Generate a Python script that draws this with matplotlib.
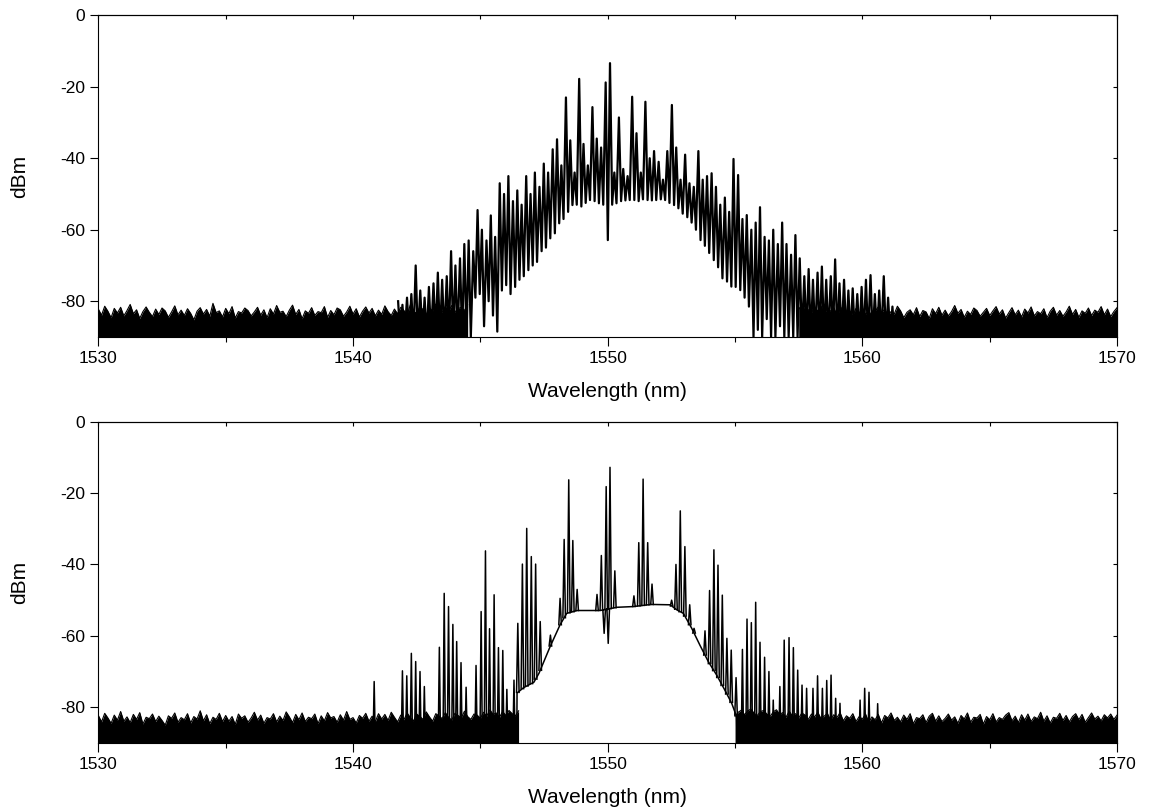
import numpy as np
import matplotlib.pyplot as plt
from matplotlib.ticker import MultipleLocator

plt.rcParams["font.family"] = ["Liberation Sans", "DejaVu Sans"]
plt.rcParams["axes.unicode_minus"] = False

x_ticks = [1530, 1540, 1550, 1560, 1570]
y_ticks = [-80, -60, -40, -20, 0]
floor_step = 0.125  # nm between noise-floor samples

# ---- upper spectrum: dense comb, one valley level after each line ----
top_line_wl = [
    1541.77, 1541.94, 1542.12, 1542.29, 1542.46, 1542.64, 1542.81, 1542.98, 1543.16, 1543.33,
    1543.50, 1543.68, 1543.85, 1544.02, 1544.20, 1544.37, 1544.54, 1544.72, 1544.89, 1545.06,
    1545.24, 1545.41, 1545.58, 1545.76, 1545.93, 1546.10, 1546.28, 1546.45, 1546.62, 1546.80,
    1546.97, 1547.14, 1547.32, 1547.49, 1547.66, 1547.84, 1548.01, 1548.18, 1548.36, 1548.53,
    1548.70, 1548.88, 1549.05, 1549.22, 1549.40, 1549.57, 1549.74, 1549.92, 1550.09, 1550.26,
    1550.44, 1550.61, 1550.78, 1550.96, 1551.13, 1551.30, 1551.48, 1551.65, 1551.82, 1552.00,
    1552.17, 1552.34, 1552.52, 1552.69, 1552.86, 1553.04, 1553.21, 1553.38, 1553.56, 1553.73,
    1553.90, 1554.08, 1554.25, 1554.42, 1554.60, 1554.77, 1554.94, 1555.12, 1555.29, 1555.46,
    1555.64, 1555.81, 1555.98, 1556.16, 1556.33, 1556.50, 1556.68, 1556.85, 1557.02, 1557.20,
    1557.37, 1557.54, 1557.72, 1557.89, 1558.06, 1558.24, 1558.41, 1558.58, 1558.76, 1558.93,
    1559.10, 1559.28, 1559.45, 1559.62, 1559.80, 1559.97, 1560.14, 1560.32, 1560.49, 1560.66,
    1560.84, 1561.01, 1561.18,
]
top_line_dbm = [
    -80, -81, -79, -78, -70, -77, -79, -76, -75, -72,
    -74, -73, -66, -70, -68, -64, -63, -66, -54.5, -60,
    -63, -56, -62, -47, -50, -45, -52, -49, -53, -45,
    -50, -44, -48, -41.5, -44, -37.5, -34.7, -42, -23, -35,
    -44, -17.8, -36, -42, -25.7, -34.5, -37, -18.8, -13.4, -44,
    -28.6, -43, -45, -22.8, -33, -44, -24.2, -40, -38, -41,
    -46, -38, -25.1, -37, -46, -39, -47, -48, -38, -46,
    -45, -44.2, -48, -53, -51, -55, -40.2, -44.7, -57, -55.9,
    -60, -58, -53.7, -62, -63, -60, -64, -58, -64, -67,
    -61.5, -68, -73, -71, -74, -72, -70.3, -74, -73, -68.3,
    -75, -74, -77, -76.4, -78, -76, -74, -72.7, -78, -77,
    -73, -79, -81.5,
]
top_valley_dbm = [
    -90, -90, -90, -90, -90, -90, -90, -90, -90, -90,
    -90, -90, -90, -90, -90, -90, -90, -79, -78, -87,
    -80, -84, -88.5, -77, -75.5, -78, -76, -74, -73, -71.3,
    -70, -69, -66, -65, -62.4, -61, -58.2, -57, -55, -53.1,
    -53, -53.5, -52.5, -51.7, -52, -52.6, -53, -62.9, -53, -52.6,
    -52, -51.8, -51.7, -51.7, -52, -51.5, -51.7, -51.8, -51.7, -51.5,
    -51.7, -52.5, -53.1, -54, -55.5, -56.5, -58, -60, -62.9, -64.5,
    -66.5, -68.5, -70.5, -73.6, -74.5, -75.9, -76, -76.9, -79, -81.5,
    -90, -88, -90, -85, -90, -90, -87, -90, -90, -90,
    -90, -90, -90, -90, -90, -90, -90, -90, -90, -90,
    -90, -90, -90, -90, -90, -90, -90, -90, -90, -90,
    -90, -90, -90,
]
top_floor_left_start = 1530.0
top_floor_left = [
    -82.2, -83.9, -81.4, -82.8, -84.6, -82.0, -83.3, -81.7, -84.1, -82.6,
    -80.9, -83.5, -82.4, -84.8, -82.9, -81.6, -83.1, -84.3, -82.2, -83.7,
    -81.9, -82.7, -84.5, -83.0, -81.3, -83.8, -82.5, -84.0, -82.1, -83.4,
    -85.2, -82.8, -81.8, -83.6, -82.3, -84.2, -80.6, -83.2, -82.7, -84.4,
    -82.0, -83.5, -81.5, -84.7, -82.9, -83.3, -81.9, -82.6, -84.1, -83.0,
    -81.7, -83.9, -82.4, -84.6, -82.1, -83.6, -81.2, -83.1, -82.8, -84.3,
    -82.5, -81.1, -83.7, -82.3, -84.9, -82.7, -83.4, -81.8, -84.0, -82.9,
    -83.2, -81.5, -84.5, -82.6, -83.8, -81.9, -82.4, -84.2, -83.0, -81.4,
    -83.6, -82.1, -84.4, -82.8, -81.6, -83.3, -82.0, -84.1, -82.5, -83.7,
    -81.3, -82.9, -84.0, -82.2, -83.5, -81.7, -82.6, -83.9, -81.0, -82.8,
    -83.4, -81.6, -82.3, -83.8, -81.9, -82.7, -80.8, -82.4, -83.1, -81.5,
    -82.9, -81.2, -83.0, -82.1, -81.7, -82.6, -80.9,
]
top_floor_right_start = 1557.5
top_floor_right = [
    -81.6, -82.9, -81.1, -82.4, -83.2, -81.8, -82.7, -81.3, -83.5, -82.1,
    -82.8, -81.7, -83.9, -82.3, -81.5, -83.0, -82.6, -84.2, -82.0, -83.4,
    -81.9, -83.7, -82.5, -84.4, -82.8, -81.6, -83.3, -82.2, -84.0, -82.9,
    -83.6, -81.4, -82.7, -84.6, -83.1, -82.4, -83.8, -81.8, -84.3, -82.6,
    -83.0, -84.8, -82.1, -83.5, -81.7, -83.9, -82.5, -84.1, -82.9, -81.2,
    -83.4, -82.3, -84.5, -82.8, -83.7, -81.9, -82.6, -84.2, -83.1, -82.0,
    -84.0, -82.7, -81.5, -83.6, -82.4, -84.7, -83.2, -81.8, -83.8, -82.5,
    -84.4, -82.2, -83.3, -81.6, -84.1, -82.9, -83.5, -82.1, -84.6, -82.8,
    -81.7, -83.9, -82.6, -84.2, -83.0, -81.4, -83.7, -82.3, -84.5, -82.7,
    -83.4, -81.9, -84.0, -82.5, -83.1, -81.5, -83.8, -82.2, -84.3, -82.9,
    -81.8,
]

# ---- lower spectrum: flat-top pedestal with line clusters ----
bot_pedestal_wl = [
    1546.43, 1546.44, 1546.70, 1547.10, 1547.30, 1547.74, 1548.13, 1548.39, 1548.80,
    1549.70, 1550.36, 1551.00, 1551.70, 1552.45, 1552.71, 1552.97, 1553.30, 1553.62,
    1553.95, 1554.28, 1554.60, 1554.87, 1555.06, 1555.08,
]
bot_pedestal_dbm = [
    -90, -76, -74.5, -73, -70.5, -63, -56.9, -53.7, -52.9,
    -52.9, -52, -51.8, -51.2, -51.3, -52.7, -53.7, -57.9, -62.6,
    -67.2, -71, -75.2, -78.9, -82.6, -90,
]
bot_line_wl = [
    1540.83, 1541.94, 1542.11, 1542.29, 1542.46, 1542.63, 1542.80,
    1543.39, 1543.58, 1543.75, 1543.92, 1544.07, 1544.24, 1544.44,
    1544.83, 1545.03, 1545.20, 1545.36, 1545.54, 1545.71, 1545.88, 1546.04, 1546.32,
    1546.47, 1546.65, 1546.82, 1547.00, 1547.17, 1547.35, 1547.75,
    1548.13, 1548.29, 1548.47, 1548.63, 1548.80,
    1549.58, 1549.75, 1549.86, 1549.94, 1550.02, 1550.09, 1550.28,
    1551.03, 1551.22, 1551.39, 1551.57, 1551.74,
    1552.51, 1552.68, 1552.85, 1553.03, 1553.22, 1553.39,
    1553.82, 1554.00, 1554.17, 1554.33, 1554.50, 1554.68, 1554.85, 1555.04,
    1555.29, 1555.47, 1555.64, 1555.81, 1555.98, 1556.16, 1556.33, 1556.50,
    1556.76, 1556.93, 1557.12, 1557.29, 1557.46, 1557.63, 1557.81,
    1558.06, 1558.24, 1558.43, 1558.60, 1558.77, 1558.95, 1559.12,
    1559.91, 1560.09, 1560.26, 1560.60,
]
bot_line_dbm = [
    -72.8, -69.8, -71.2, -64.9, -67.2, -70.0, -74.2,
    -63.2, -48.1, -51.8, -56.8, -61.6, -67.5, -74.4,
    -68.3, -53.2, -36.2, -58.0, -48.5, -63.3, -64.1, -75.0, -72.4,
    -56.5, -39.9, -29.9, -37.8, -39.9, -56.0, -59.8,
    -49.5, -33.0, -16.3, -33.3, -47.0,
    -48.4, -37.5, -59.3, -18.2, -62.1, -12.8, -41.8,
    -48.8, -33.9, -16.1, -33.9, -45.5,
    -50.0, -40.0, -25.0, -35.0, -51.3, -57.9,
    -58.6, -47.3, -35.9, -40.2, -48.6, -60.7, -64.0, -71.7,
    -63.8, -55.3, -56.3, -50.6, -61.8, -66.0, -70.0, -78.0,
    -74.2, -61.2, -60.5, -63.3, -69.6, -73.8, -74.7,
    -74.7, -71.2, -74.7, -72.5, -71.0, -77.5, -78.9,
    -78.0, -74.7, -75.8, -79.0,
]
bot_floor_left_start = 1530.0
bot_floor_left = [
    -82.3, -84.1, -81.7, -83.0, -84.5, -82.2, -83.6, -81.2, -83.9, -82.7,
    -84.3, -82.0, -83.4, -81.5, -84.7, -82.8, -83.2, -81.9, -84.0, -82.5,
    -83.7, -85.0, -82.4, -83.1, -81.6, -84.2, -82.9, -83.5, -81.8, -84.4,
    -82.6, -83.3, -81.0, -83.8, -82.1, -84.6, -82.8, -83.4, -81.7, -84.0,
    -82.3, -83.9, -82.6, -84.8, -81.9, -83.1, -82.4, -84.2, -83.0, -81.4,
    -83.6, -82.2, -84.5, -82.9, -83.3, -81.8, -84.1, -82.5, -83.7, -81.3,
    -82.7, -84.3, -82.0, -83.5, -81.6, -84.0, -82.8, -83.2, -81.9, -84.6,
    -82.4, -83.8, -81.5, -83.0, -82.6, -84.2, -82.1, -83.6, -81.2, -83.4,
    -82.9, -84.4, -82.3, -83.1, -81.7, -83.9, -82.5, -84.0, -81.8, -83.3,
    -82.0, -83.7, -81.4, -82.8, -84.1, -82.2, -83.5, -81.6, -82.9, -83.8,
    -81.9, -82.6, -83.4, -81.3, -82.7, -83.9, -81.8, -82.4, -83.2, -81.5,
    -82.8, -83.6, -81.7, -82.3, -83.0, -81.1, -82.6, -83.4, -81.9, -82.2,
    -83.1, -81.4, -82.5, -80.7, -82.0, -81.6, -82.8, -81.2, -82.3, -80.9,
    -81.8, -82.4, -81.0,
]
bot_floor_right_start = 1555.0
bot_floor_right = [
    -82.6, -81.4, -80.8, -82.1, -81.0, -80.5, -81.7, -82.3, -81.2, -80.9,
    -81.9, -82.6, -81.3, -80.7, -82.0, -81.5, -82.8, -81.1, -82.4, -81.8,
    -83.0, -81.6, -82.2, -83.4, -81.9, -82.7, -81.4, -83.2, -82.5, -81.7,
    -83.6, -82.1, -82.9, -81.5, -83.8, -82.4, -83.1, -81.8, -84.0, -82.6,
    -83.3, -81.9, -84.2, -82.7, -83.5, -82.0, -84.4, -82.3, -83.0, -81.6,
    -83.7, -82.8, -84.1, -82.2, -83.4, -81.8, -84.6, -82.9, -83.2, -82.1,
    -84.3, -82.5, -81.7, -83.9, -82.4, -84.0, -83.1, -81.9, -83.6, -82.7,
    -84.5, -82.3, -83.3, -81.6, -84.2, -82.8, -83.0, -82.0, -84.7, -82.6,
    -83.5, -81.8, -84.1, -82.9, -83.4, -82.2, -81.5, -83.8, -82.5, -84.3,
    -82.1, -83.6, -81.9, -84.0, -82.7, -83.2, -81.4, -83.9, -82.4, -84.4,
    -82.8, -83.1, -81.7, -83.7, -82.3, -84.1, -82.6, -81.8, -83.5, -82.0,
    -84.2, -82.9, -81.6, -83.3, -82.5, -83.8, -82.1, -83.0, -81.9, -83.4,
    -82.2,
]


def draw_floor(ax, start, values):
    """Solid noise band from the bottom of the plot up to the sampled floor."""
    wl = start + floor_step * np.arange(len(values))
    ax.fill_between(wl, -95, values, color="black", lw=0)
    ax.plot(wl, values, color="black", lw=0.8)


def draw_comb(ax, line_wl, line_dbm, valley_dbm):
    """Zig-zag trace: each line peak followed by the valley before the next one."""
    wl = np.asarray(line_wl)
    half = 0.5 * np.median(np.diff(wl))
    xs = np.column_stack([wl, wl + half]).ravel()
    ys = np.column_stack([line_dbm, valley_dbm]).ravel()
    ax.plot(xs, ys, color="black", lw=1.6)


def draw_lines(ax, line_wl, line_dbm, ped_wl, ped_dbm, half=0.05):
    """Narrow spikes standing on the pedestal (or the floor outside it)."""
    wl = np.asarray(line_wl)
    base = np.interp(wl, ped_wl, ped_dbm, left=-92, right=-92)
    gap = np.full_like(wl, np.nan)
    xs = np.column_stack([wl - half, wl, wl + half, gap]).ravel()
    ys = np.column_stack([base, line_dbm, base, gap]).ravel()
    ax.plot(xs, ys, color="black", lw=1.1)


def style_axes(ax):
    ax.set_xlim(1530, 1570)
    ax.set_ylim(-90, 0)
    ax.set_xticks(x_ticks)
    ax.set_yticks(y_ticks)
    ax.xaxis.set_minor_locator(MultipleLocator(5))
    ax.tick_params(axis="x", which="major", direction="out", length=6.5,
                   width=0.8, labelsize=12.5, pad=3.5)
    ax.tick_params(axis="x", which="minor", direction="out", length=3.5, width=0.8)
    ax.tick_params(axis="y", direction="out", length=6, width=0.8,
                   labelsize=12.5, pad=3.5)
    for spine in ax.spines.values():
        spine.set_linewidth(0.8)

    top = ax.secondary_xaxis("top")
    top.set_xticks(x_ticks)
    top.xaxis.set_minor_locator(MultipleLocator(5))
    top.tick_params(which="both", direction="in", length=3, width=0.8, labeltop=False)
    right = ax.secondary_yaxis("right")
    right.set_yticks(y_ticks)
    right.tick_params(direction="in", length=3, width=0.8, labelright=False)

    ax.set_xlabel("Wavelength (nm)", fontsize=15, va="center")
    ax.xaxis.set_label_coords(0.5, -0.171)
    ax.set_ylabel("dBm", fontsize=15, va="center")
    ax.yaxis.set_label_coords(-0.077, 0.5)


fig = plt.figure(figsize=(11.49, 8.11), dpi=100)
ax_top = fig.add_axes([0.0856, 0.5845, 0.8866, 0.3967])
ax_bot = fig.add_axes([0.0856, 0.0839, 0.8866, 0.3962])

# upper panel
draw_floor(ax_top, top_floor_left_start, top_floor_left)
draw_floor(ax_top, top_floor_right_start, top_floor_right)
draw_comb(ax_top, top_line_wl, top_line_dbm, top_valley_dbm)
style_axes(ax_top)

# lower panel
draw_floor(ax_bot, bot_floor_left_start, bot_floor_left)
draw_floor(ax_bot, bot_floor_right_start, bot_floor_right)
ax_bot.plot(bot_pedestal_wl, bot_pedestal_dbm, color="black", lw=1.1)
draw_lines(ax_bot, bot_line_wl, bot_line_dbm, bot_pedestal_wl, bot_pedestal_dbm)
style_axes(ax_bot)

fig.savefig("out.png", dpi=100)
